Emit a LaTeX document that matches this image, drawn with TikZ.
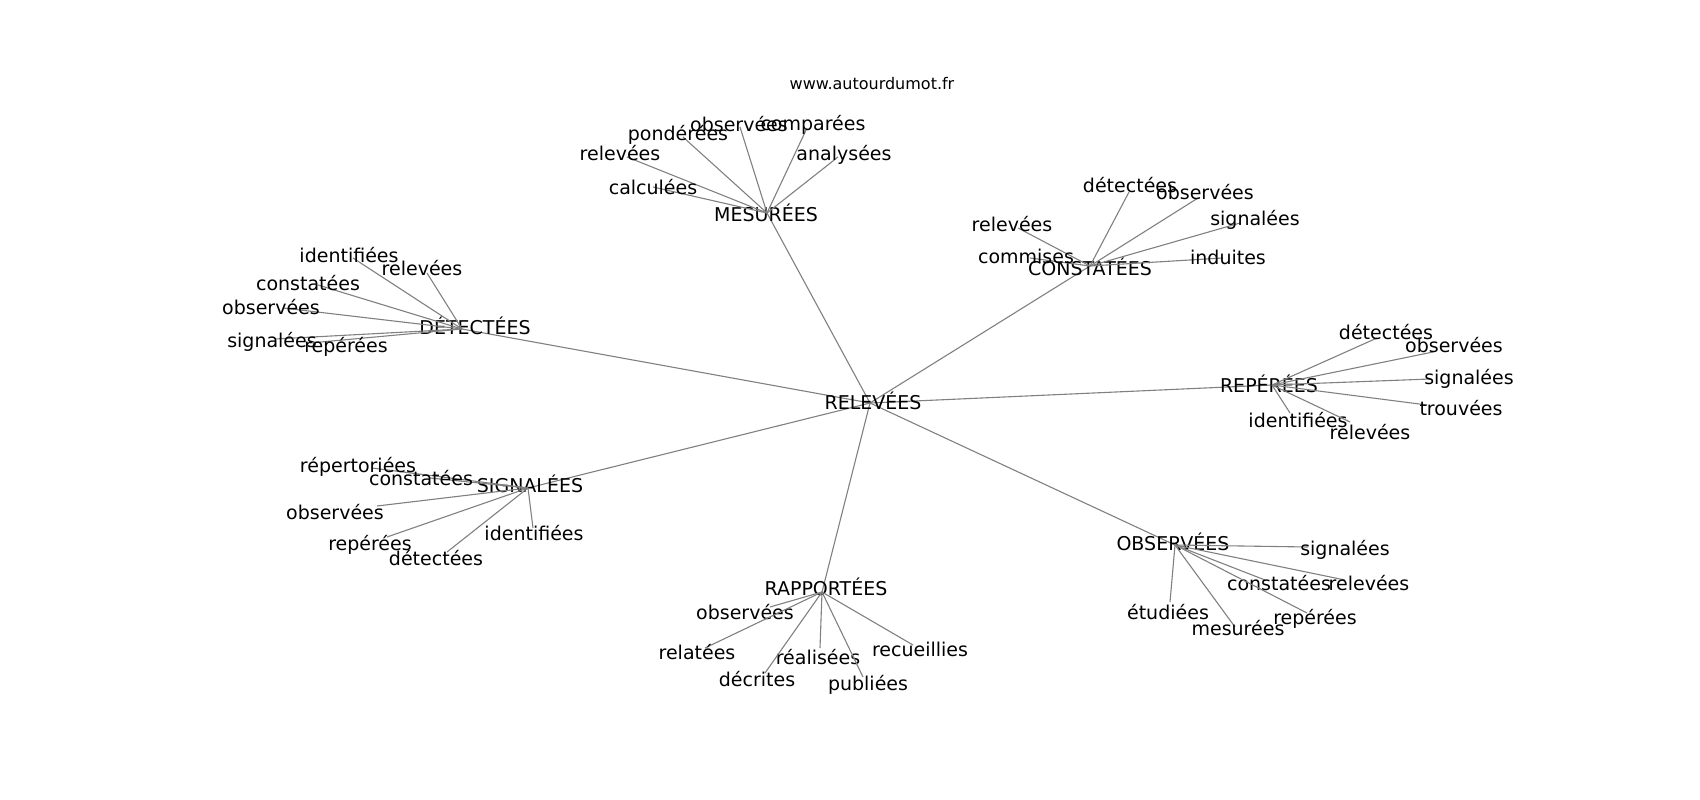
\documentclass[tikz,border=0pt]{standalone}
\usepackage{fontspec}
\setmainfont{DejaVu Sans}
\definecolor{edgegray}{HTML}{808080}
\tikzset{
  edge/.style={draw=edgegray, line width=1.1pt},
  lbl/.style={inner sep=0pt, anchor=base, font=\fontsize{19}{19}\selectfont, text=black},
  ttl/.style={inner sep=0pt, anchor=base, font=\fontsize{16}{16}\selectfont, text=black}
}
\newcommand\mkhub[6]{% name, node x,y, label x,y, text
  \coordinate (#1) at (#2,#3);
  \node[lbl] (#1-t) at (#4,#5) {#6};
}
\newcommand\mkleaf[7]{% name, end x,y, label x,y, text, parent
  \coordinate (#1) at (#2,#3);
  \draw[edge] (#7) -- (#1);
  \node[lbl] (#1-t) at (#4,#5) {#6};
}
\begin{document}
\begin{tikzpicture}[x=1pt,y=-1pt]
\useasboundingbox (0,0) rectangle (1700,800);
\node[ttl] (title) at (872,89) {www.autourdumot.fr};
% hubs
\coordinate (rel) at (870,403);
\coordinate (mes) at (767,213);
\coordinate (con) at (1090,266);
\coordinate (det) at (462,329);
\coordinate (rep) at (1272,385);
\coordinate (sig) at (528,488);
\coordinate (rap) at (822,592);
\coordinate (obs) at (1175,545);
\foreach \h in {mes,con,det,rep,sig,rap,obs} \draw[edge] (rel) -- (\h);
\node[lbl] (rel-t) at (873,409) {RELEVÉES};
\node[lbl] (mes-t) at (766,221) {MESURÉES};
\node[lbl] (con-t) at (1090,275) {CONSTATÉES};
\node[lbl] (det-t) at (475,334) {DÉTECTÉES};
\node[lbl] (rep-t) at (1269,392) {REPÉRÉES};
\node[lbl] (sig-t) at (530,492) {SIGNALÉES};
\node[lbl] (rap-t) at (826,595) {RAPPORTÉES};
\node[lbl] (obs-t) at (1173,550) {OBSERVÉES};
% MESURÉES
\mkleaf{m1}{740}{127}{739}{131}{observées}{mes}
\mkleaf{m2}{807}{128}{813}{130}{comparées}{mes}
\mkleaf{m3}{683}{137}{678}{140}{pondérées}{mes}
\mkleaf{m4}{627}{157}{620}{160}{relevées}{mes}
\mkleaf{m5}{838}{157}{844}{160}{analysées}{mes}
\mkleaf{m6}{653}{187}{653}{194}{calculées}{mes}
% CONSTATÉES
\mkleaf{c1}{1129}{192}{1130}{192}{détectées}{con}
\mkleaf{c2}{1198}{198}{1205}{199}{observées}{con}
\mkleaf{c3}{1018}{228}{1012}{231}{relevées}{con}
\mkleaf{c4}{1240}{223}{1255}{225}{signalées}{con}
\mkleaf{c5}{1030}{258}{1026}{263}{commises}{con}
\mkleaf{c6}{1223}{258}{1228}{264}{induites}{con}
% DÉTECTÉES
\mkleaf{d1}{353}{258}{349}{262}{identifiées}{det}
\mkleaf{d2}{427}{273}{422}{275}{relevées}{det}
\mkleaf{d3}{318}{285}{308}{290}{constatées}{det}
\mkleaf{d4}{283}{308}{271}{314}{observées}{det}
\mkleaf{d5}{275}{339}{272}{347}{signalées}{det}
\mkleaf{d6}{310}{343}{346}{352}{repérées}{det}
% SIGNALÉES
\mkleaf{s1}{372}{468}{358}{472}{répertoriées}{sig}
\mkleaf{s2}{430}{478}{421}{485}{constatées}{sig}
\mkleaf{s3}{377}{506}{335}{519}{observées}{sig}
\mkleaf{s4}{387}{537}{370}{550}{repérées}{sig}
\mkleaf{s5}{447}{552}{436}{565}{détectées}{sig}
\mkleaf{s6}{533}{528}{534}{540}{identifiées}{sig}
% REPÉRÉES
\mkleaf{r1}{1377}{338}{1386}{339}{détectées}{rep}
\mkleaf{r2}{1433}{352}{1454}{352}{observées}{rep}
\mkleaf{r3}{1430}{379}{1469}{384}{signalées}{rep}
\mkleaf{r4}{1427}{405}{1461}{415}{trouvées}{rep}
\mkleaf{r5}{1290}{413}{1298}{427}{identifiées}{rep}
\mkleaf{r6}{1350}{422}{1370}{439}{relevées}{rep}
% OBSERVÉES
\mkleaf{o1}{1308}{547}{1345}{555}{signalées}{obs}
\mkleaf{o2}{1265}{580}{1279}{590}{constatées}{obs}
\mkleaf{o3}{1345}{580}{1369}{590}{relevées}{obs}
\mkleaf{o4}{1170}{602}{1168}{619}{étudiées}{obs}
\mkleaf{o5}{1235}{627}{1238}{635}{mesurées}{obs}
\mkleaf{o6}{1307}{613}{1315}{624}{repérées}{obs}
% RAPPORTÉES
\mkleaf{p1}{770}{607}{745}{619}{observées}{rap}
\mkleaf{p2}{705}{648}{697}{659}{relatées}{rap}
\mkleaf{p3}{820}{648}{818}{664}{réalisées}{rap}
\mkleaf{p4}{765}{673}{757}{686}{décrites}{rap}
\mkleaf{p5}{863}{677}{868}{690}{publiées}{rap}
\mkleaf{p6}{913}{645}{920}{656}{recueillies}{rap}
\end{tikzpicture}
\end{document}
